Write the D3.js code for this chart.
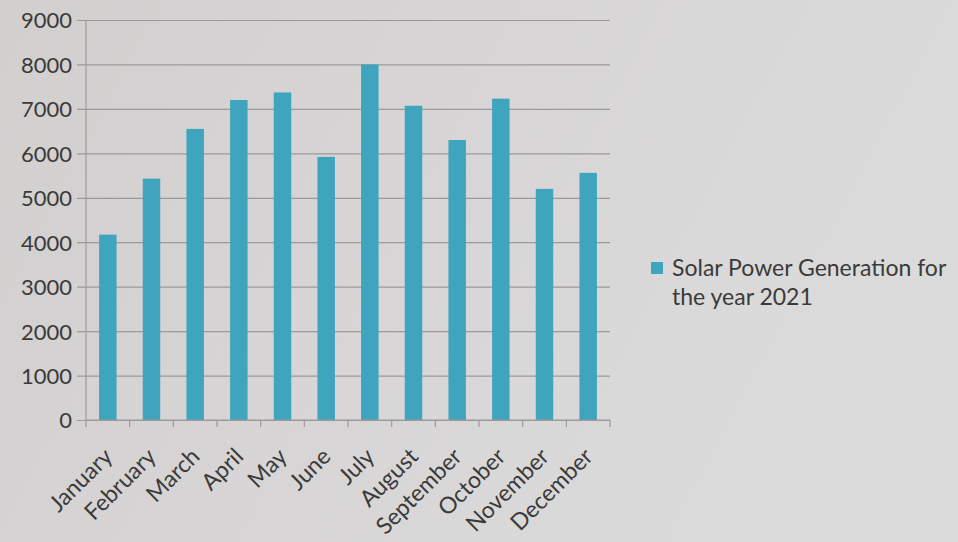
<!DOCTYPE html>
<html lang="en">
<head>
  <meta charset="UTF-8" />
  <title>Solar Power Generation 2021</title>
  <script src="https://cdn.jsdelivr.net/npm/d3@7"></script>
  <style>
    body {
      margin: 0;
      background: #d5d3d2;
    }
    svg text {
      font-family: Lato, "Open Sans", sans-serif;
      fill: #3b3a3a;
    }
  </style>
</head>
<body>
<div id="chart"></div>
<script>
const months = ["January", "February", "March", "April", "May", "June",
  "July", "August", "September", "October", "November", "December"];
const generation = [4170, 5430, 6550, 7200, 7370, 5920, 8000, 7070, 6300, 7230, 5200, 5560];
const yTicks = [0, 1000, 2000, 3000, 4000, 5000, 6000, 7000, 8000, 9000];
const seriesName = ["Solar Power Generation for", "the year 2021"];

const W = 958, H = 542;
const margin = { top: 20, right: 348, bottom: 122, left: 86 };
const width = W - margin.left - margin.right,
      height = H - margin.top - margin.bottom;
const barColor = "#3fa5be";

const svg = d3.select("#chart").append("svg")
  .attr("width", W)
  .attr("height", H);

// faint photo-like shading
const defs = svg.append("defs");
const grad = defs.append("linearGradient")
  .attr("id", "bg").attr("x1", 0).attr("y1", 0).attr("x2", 1).attr("y2", 0.3);
grad.append("stop").attr("offset", "0%").attr("stop-color", "#d2cfcf");
grad.append("stop").attr("offset", "100%").attr("stop-color", "#dcdbdb");
svg.append("rect").attr("width", W).attr("height", H).attr("fill", "url(#bg)");

const g = svg.append("g")
  .attr("transform", `translate(${margin.left},${margin.top})`);

const x = d3.scaleBand().domain(months).range([0, width]).paddingInner(0.6).paddingOuter(0.3);
const xTicks = d3.scaleBand().domain(months).range([0, width]);
const y = d3.scaleLinear().domain([0, 9000]).range([height, 0]);

// gridlines + y axis labels
const yAxis = g.append("g")
  .call(d3.axisLeft(y).tickValues(yTicks).tickSize(-width - 9).tickPadding(14).tickFormat(d3.format("d")));
yAxis.select(".domain").remove();
yAxis.selectAll(".tick line")
  .attr("x1", -9)
  .attr("x2", width)
  .attr("stroke", "#9b9999")
  .attr("stroke-width", 1.2);
yAxis.selectAll(".tick text")
  .attr("font-size", 22)
  .attr("dy", "0.36em");

// vertical axis line
g.append("line")
  .attr("x1", 0).attr("x2", 0)
  .attr("y1", 0).attr("y2", height)
  .attr("stroke", "#9b9999").attr("stroke-width", 1.2);

// bars
g.selectAll("rect.bar")
  .data(generation)
  .join("rect")
  .attr("class", "bar")
  .attr("x", (d, i) => x(months[i]))
  .attr("y", d => y(d))
  .attr("width", x.bandwidth())
  .attr("height", d => height - y(d))
  .attr("fill", barColor);

// x axis with category ticks on boundaries
const xAxisG = g.append("g")
  .attr("transform", `translate(0,${height})`);
xAxisG.append("line")
  .attr("x1", 0).attr("x2", width)
  .attr("stroke", "#9b9999").attr("stroke-width", 1.2);
xAxisG.selectAll("line.tick")
  .data(months.concat(["end"]))
  .join("line")
  .attr("class", "tick")
  .attr("x1", (d, i) => i * xTicks.step())
  .attr("x2", (d, i) => i * xTicks.step())
  .attr("y1", 0).attr("y2", 7)
  .attr("stroke", "#9b9999").attr("stroke-width", 1.2);
xAxisG.selectAll("text")
  .data(months)
  .join("text")
  .attr("text-anchor", "end")
  .attr("font-size", 23)
  .attr("transform", d => `translate(${xTicks(d) + xTicks.bandwidth() / 2 + 6},${38}) rotate(-45)`)
  .text(d => d);

// legend
const legend = svg.append("g").attr("transform", "translate(651,262)");
legend.append("rect")
  .attr("width", 12).attr("height", 12)
  .attr("fill", barColor);
legend.selectAll("text")
  .data(seriesName)
  .join("text")
  .attr("x", 21)
  .attr("y", (d, i) => 14 + i * 29)
  .attr("font-size", 23)
  .text(d => d);
</script>
</body>
</html>
